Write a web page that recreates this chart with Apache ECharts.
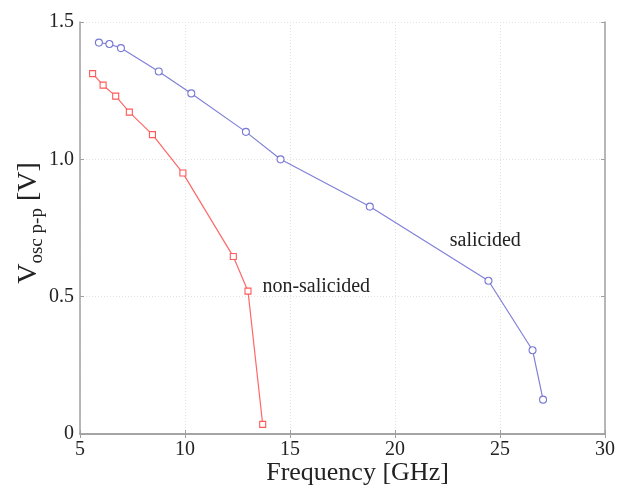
<!DOCTYPE html>
<html>
<head>
<meta charset="utf-8">
<script src="https://cdn.jsdelivr.net/npm/echarts@6/dist/echarts.min.js"></script>
<style>
  html, body { margin: 0; padding: 0; background: #fff; }
  #chart { width: 629px; height: 489px; }
</style>
</head>
<body>
<div id="chart"></div>
<script>
// Oscillation amplitude (peak-to-peak) versus oscillation frequency
const salicidedFreq = [5.9, 6.4, 6.95, 8.75, 10.3, 12.9, 14.55, 18.8, 24.45, 26.55, 27.05];
const salicidedVosc = [1.425, 1.42, 1.405, 1.32, 1.24, 1.10, 1.00, 0.828, 0.558, 0.305, 0.125];

const nonSalicidedFreq = [5.6, 6.1, 6.7, 7.35, 8.45, 9.9, 12.3, 13.0, 13.7];
const nonSalicidedVosc = [1.312, 1.27, 1.23, 1.172, 1.09, 0.95, 0.646, 0.52, 0.035];

const xTicks = [5, 10, 15, 20, 25, 30];
const yTicks = [0, 0.5, 1.0, 1.5];

const serifFont = '"Liberation Serif", "DejaVu Serif", serif';

const pairs = (xs, ys) => xs.map((x, i) => [x, ys[i]]);

const chart = echarts.init(document.getElementById('chart'), null, { renderer: 'canvas' });

const axisLineStyle = { color: '#a0a0a0', width: 1.5 };
const gridLineStyle = { color: '#e2e2e2', type: [1, 2], width: 1 };

chart.setOption({
  animation: false,
  backgroundColor: '#fff',
  grid: { left: 80, right: 24, top: 22, bottom: 55, containLabel: false, outerBoundsMode: 'none' },
  xAxis: [{
    type: 'value',
    min: xTicks[0], max: xTicks[xTicks.length - 1], interval: 5,
    position: 'bottom',
    name: 'Frequency [GHz]',
    nameLocation: 'middle',
    nameMoveOverlap: false,
    nameGap: 26,
    nameTextStyle: { fontFamily: serifFont, fontSize: 26, color: '#222', padding: [0, 0, 0, 30] },
    axisLine: { show: true, lineStyle: axisLineStyle },
    axisTick: { show: true, inside: true, length: 4, lineStyle: { color: '#a0a0a0' } },
    axisLabel: {
      fontFamily: serifFont, fontSize: 20, color: '#222', margin: 6,
      formatter: v => xTicks.includes(v) ? String(v) : ''
    },
    splitLine: { show: true, lineStyle: gridLineStyle }
  }, {
    type: 'value',
    min: xTicks[0], max: xTicks[xTicks.length - 1], interval: 5,
    position: 'top',
    axisLine: { show: true, lineStyle: axisLineStyle },
    axisTick: { show: true, inside: true, length: 4, lineStyle: { color: '#a0a0a0' } },
    axisLabel: { show: false },
    splitLine: { show: false }
  }],
  yAxis: [{
    type: 'value',
    min: yTicks[0], max: yTicks[yTicks.length - 1], interval: 0.5,
    position: 'left',
    name: '{v|V}{s|osc p-p}{v| [V]}',
    nameLocation: 'middle',
    nameRotate: 90,
    nameMoveOverlap: false,
    nameGap: 37,
    nameTextStyle: {
      color: '#222',
      padding: [0, 0, 0, 10],
      rich: {
        v: { fontFamily: serifFont, fontSize: 28, color: '#222', lineHeight: 30, verticalAlign: 'bottom' },
        s: { fontFamily: serifFont, fontSize: 19, color: '#222', lineHeight: 30, verticalAlign: 'bottom', padding: [0, 0, -4, 0] }
      }
    },
    axisLine: { show: true, lineStyle: axisLineStyle },
    axisTick: { show: true, inside: true, length: 4, lineStyle: { color: '#a0a0a0' } },
    axisLabel: {
      fontFamily: serifFont, fontSize: 20, color: '#222', margin: 6,
      formatter: v => (v === 0 ? '0' : v.toFixed(1))
    },
    splitLine: { show: true, lineStyle: gridLineStyle }
  }, {
    type: 'value',
    min: yTicks[0], max: yTicks[yTicks.length - 1], interval: 0.5,
    position: 'right',
    axisLine: { show: true, lineStyle: axisLineStyle },
    axisTick: { show: true, inside: true, length: 4, lineStyle: { color: '#a0a0a0' } },
    axisLabel: { show: false },
    splitLine: { show: false }
  }],
  series: [{
    name: 'salicided',
    type: 'line',
    data: pairs(salicidedFreq, salicidedVosc),
    symbol: 'circle',
    symbolSize: 7,
    showAllSymbol: true,
    lineStyle: { color: '#8080d8', width: 1.2 },
    itemStyle: { color: '#fff', borderColor: '#7878d4', borderWidth: 1.1 },
    markPoint: {
      symbol: 'rect', symbolSize: 1, itemStyle: { color: 'transparent' },
      label: { show: true, formatter: 'salicided', fontFamily: serifFont, fontSize: 20, color: '#222', position: 'inside' },
      data: [{ coord: [24.3, 0.705] }]
    }
  }, {
    name: 'non-salicided',
    type: 'line',
    data: pairs(nonSalicidedFreq, nonSalicidedVosc),
    symbol: 'rect',
    symbolSize: 6,
    showAllSymbol: true,
    lineStyle: { color: '#ff6868', width: 1.2 },
    itemStyle: { color: '#fff', borderColor: '#ff5a5a', borderWidth: 1.1 },
    markPoint: {
      symbol: 'rect', symbolSize: 1, itemStyle: { color: 'transparent' },
      label: { show: true, formatter: 'non-salicided', fontFamily: serifFont, fontSize: 20, color: '#222', position: 'inside' },
      data: [{ coord: [16.25, 0.535] }]
    }
  }]
});
</script>
</body>
</html>
